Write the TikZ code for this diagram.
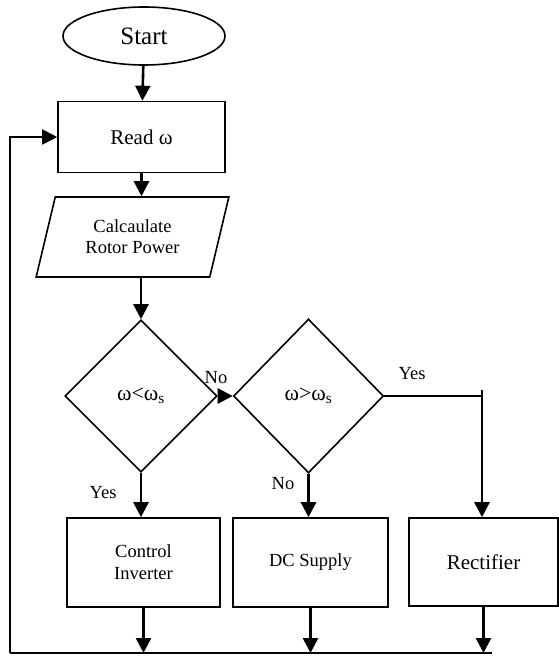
\documentclass[tikz,border=0pt]{standalone}
\usepackage{fontspec}
\setmainfont{Liberation Serif}
\usetikzlibrary{arrows.meta,shapes.geometric}

\begin{document}
\begin{tikzpicture}[>={Triangle[width=15pt,length=15pt]},x=1pt,y=-1pt]
	\tikzstyle{block} = [rectangle,draw=black,line width=1.6pt];
	\tikzstyle{decide} = [diamond,draw=black,line width=1.6pt,inner sep=0pt,minimum width=152pt,minimum height=152pt,font=\fontsize{22}{22}\selectfont];
	\tikzstyle{flow} = [->,line width=2.6pt];
	\tikzstyle{wire} = [-,line width=1.8pt];
	\tikzstyle{answer} = [font=\fontsize{18.5}{18.5}\selectfont];
	\useasboundingbox (0,0) rectangle (558,656);
	\node[ellipse,draw=black,line width=1.6pt,minimum width=162pt,minimum height=58pt,font=\fontsize{25}{25}\selectfont] (start) at (144,36) {Start};
	\node[block,minimum width=167pt,minimum height=71pt,font=\fontsize{21}{21}\selectfont] (read) at (141.5,137) {Read ω};
	\node[trapezium,trapezium left angle=73,trapezium right angle=107,trapezium stretches=true,draw=black,line width=1.6pt,minimum width=193pt,minimum height=80pt,align=center,font=\fontsize{18.5}{21}\selectfont] (calc) at (132.5,237) {Calcaulate\\Rotor Power};
	\node[decide] (dec1) at (141,396) {ω<ω\textsubscript{s}};
	\node[decide,minimum width=150pt,minimum height=154pt] (dec2) at (308.5,396) {ω>ω\textsubscript{s}};
	\node[block,minimum width=153pt,minimum height=89pt,align=center,font=\fontsize{18.5}{22}\selectfont] (ctrl) at (143.5,562.5) {Control\\Inverter};
	\node[block,minimum width=155pt,minimum height=89pt,font=\fontsize{18.5}{18.5}\selectfont] (dc) at (310.5,562.5) {DC Supply};
	\node[block,minimum width=149pt,minimum height=88pt,font=\fontsize{21}{21}\selectfont] (rectf) at (483.5,562) {Rectifier};
	\node[answer] (no1) at (216,378) {No};
	\node[answer] (yes1) at (103,493) {Yes};
	\node[answer] (no2) at (283,484) {No};
	\node[answer] (yes2) at (412,374) {Yes};
	\coordinate (fork) at (482,390);
	\coordinate (back) at (10,653);
	\coordinate (join) at (492,653);
	\draw[flow] (start) -- (read);
	\draw[flow] (read) -- (read |- calc.north);
	\draw[flow] (calc.south -| dec1) -- (dec1);
	\draw[flow] (dec1) -- (dec2);
	\draw[flow] (dec1) -- (dec1 |- ctrl.north);
	\draw[flow] (dec2) -- (dec2 |- dc.north);
	\draw[wire] (dec2.east) -- (dec2.east -| fork);
	\draw[flow] (fork) -- (fork |- rectf.north);
	\foreach \n in {ctrl,dc,rectf}
		\draw[flow] (\n) -- (\n |- back);
	\draw[wire] (join) -- (back);
	\draw[wire,->] (back) |- (read);
\end{tikzpicture}
\end{document}
